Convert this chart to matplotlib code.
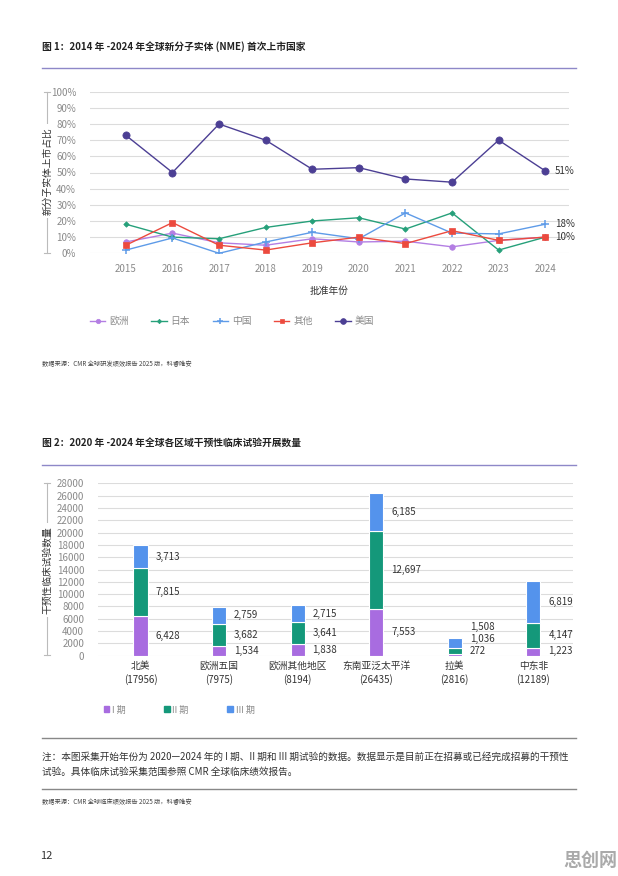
import matplotlib
matplotlib.use("Agg")
import matplotlib.pyplot as plt
import numpy as np
from matplotlib.lines import Line2D

plt.rcParams['font.family'] = ['Noto Sans CJK SC', 'DejaVu Sans']

# ---------------------------------------------------------------
# dados - figura 1
ANOS = [2015, 2016, 2017, 2018, 2019, 2020, 2021, 2022, 2023, 2024]
EUROPA = [7, 12.5, 6.5, 5, 9, 7, 7.5, 4, 8, 10]
JAPAO = [18, 10, 9, 16, 20, 22, 15, 25, 2, 10]
CHINA = [2, 9.5, 0, 7, 13, 9, 25, 12.5, 12, 18]
OUTROS = [5, 19, 5, 2, 6.5, 10, 6, 14, 8, 10]
EUA = [73, 50, 80, 70, 52, 53, 46, 44, 70, 51]

SERIES = ["欧洲", "日本", "中国", "其他", "美国"]
FIM = {"美国": "51%", "中国": "18%", "其他": "10%"}

# dados - figura 2
REGIOES = ["北美", "欧洲五国", "欧洲其他地区", "东南亚泛太平洋", "拉美", "中东非"]
FASE1 = [6428, 1534, 1838, 7553, 272, 1223]
FASE2 = [7815, 3682, 3641, 12697, 1036, 4147]
FASE3 = [3713, 2759, 2715, 6185, 1508, 6819]
FASES = ["I 期", "II 期", "III 期"]

CORES = {
    "欧洲": "#B37EE3",
    "日本": "#26A07A",
    "中国": "#5E9BE8",
    "其他": "#EC4A3E",
    "美国": "#4C3F94",
}
MARCADORES = {
    "欧洲": ("o", 4),
    "日本": ("D", 2.8),
    "中国": ("+", 5.5),
    "其他": ("s", 3.8),
    "美国": ("o", 5.2),
}
CORES_FASE = ["#A86CE0", "#14987A", "#5493EC"]

GRID = "#DCDCDC"
TXT = "#8A8A8A"
ESCURO = "#333333"

fig = plt.figure(figsize=(6.18, 8.76), dpi=100)
W, H = 618, 876


def fy(py):
    return 1 - py / H


def fx(px):
    return px / W


def colchete(x, y0, y1, rotulo, yc):
    # linha vertical do eixo com o rotulo por cima
    fig.add_artist(Line2D([fx(x), fx(x)], [fy(y0), fy(y1)], color="#BBBBBB", lw=0.8))
    for yy in (y0, y1):
        fig.add_artist(Line2D([fx(x - 3), fx(x + 3)], [fy(yy), fy(yy)], color="#BBBBBB", lw=0.8))
    fig.text(fx(x), fy(yc), rotulo, rotation=90, ha="center", va="center",
             fontsize=7, color=ESCURO,
             bbox=dict(facecolor="white", edgecolor="none", pad=2))


def cabecalho(titulo, y_txt, y_linha):
    fig.text(fx(42), fy(y_txt), titulo, fontsize=7, fontweight="bold",
             color="#222222", va="center", ha="left")
    fig.add_artist(Line2D([fx(42), fx(576)], [fy(y_linha), fy(y_linha)],
                          color="#8E88C8", lw=1.0))


def mew(m):
    return 1.1 if m == "+" else 0.5


# ---------------------------------------------------------------
# figura 1
cabecalho("图 1：2014 年 -2024 年全球新分子实体 (NME) 首次上市国家", 47, 68)

ax1 = fig.add_axes([fx(90), fy(253.3), fx(569) - fx(90), fy(91.7) - fy(253.3)])
dados = {"欧洲": EUROPA, "日本": JAPAO, "中国": CHINA, "其他": OUTROS, "美国": EUA}
for s in SERIES:
    m, ms = MARCADORES[s]
    ax1.plot(ANOS, dados[s], color=CORES[s], lw=1.0, marker=m, markersize=ms,
             markeredgewidth=mew(m), label=s)
    if s in FIM:
        ax1.annotate(FIM[s], (ANOS[-1], dados[s][-1]), xytext=(7, 0),
                     textcoords="offset points", va="center", ha="left",
                     fontsize=7, color=ESCURO)

ax1.set_xlim(2014.23, 2024.51)
ax1.set_ylim(0, 100)
ax1.set_yticks(np.arange(0, 101, 10))
ax1.set_yticklabels([f"{v}%" for v in range(0, 101, 10)])
ax1.set_xticks(ANOS)
ax1.grid(axis="y", color=GRID, lw=0.8)
ax1.set_axisbelow(True)
for sp in ax1.spines.values():
    sp.set_visible(False)
ax1.tick_params(axis="both", length=0, labelsize=7, labelcolor=TXT)
ax1.tick_params(axis="y", pad=10)
ax1.tick_params(axis="x", pad=8)
ax1.set_xlabel("批准年份", fontsize=7, color=ESCURO, labelpad=8)
colchete(47, 92, 253, "新分子实体上市占比", 171)

h1 = [Line2D([], [], color=CORES[s], lw=1.0, alpha=1, marker=MARCADORES[s][0],
             markersize=MARCADORES[s][1] * 0.8, markeredgewidth=mew(MARCADORES[s][0]))
      for s in SERIES]
fig.legend(h1, SERIES, loc="center", bbox_to_anchor=(fx(232), fy(321)), ncol=5,
           frameon=False, fontsize=7, labelcolor=TXT, handlelength=1.6,
           handletextpad=0.4, columnspacing=2.3)

fig.text(fx(42), fy(364), "数据来源：CMR 全球研发绩效报告 2025 版，科睿唯安",
         fontsize=4.5, color="#444444", va="center")

# ---------------------------------------------------------------
# figura 2
cabecalho("图 2：2020 年 -2024 年全球各区域干预性临床试验开展数量", 443, 465)

ax2 = fig.add_axes([fx(98), fy(655.7), fx(572.7) - fx(98), fy(483.3) - fy(655.7)])
x = np.arange(len(REGIOES))
largura = 0.18
base = np.zeros(len(REGIOES))
for vals, cor, nome in zip([FASE1, FASE2, FASE3], CORES_FASE, FASES):
    ax2.bar(x, vals, largura, bottom=base, color=cor, edgecolor="white",
            linewidth=0.8, label=nome)
    base = base + np.array(vals)

# rotulos ao lado das barras (afasta quando os segmentos sao pequenos)
for i in range(len(REGIOES)):
    inicio = 0
    ultimo = -1e9
    for vals in (FASE1, FASE2, FASE3):
        v = vals[i]
        yl = max(inicio + v / 2, 700, ultimo + 2000)
        ax2.text(x[i] + largura / 2 + 0.1, yl, f"{v:,}", va="center", ha="left",
                 fontsize=7, color=ESCURO)
        ultimo = yl
        inicio += v

totais = [a + b + c for a, b, c in zip(FASE1, FASE2, FASE3)]
ax2.set_xticks(x)
ax2.set_xticklabels([f"{r}\n({t})" for r, t in zip(REGIOES, totais)],
                    fontsize=7, color=ESCURO, linespacing=1.3)
ax2.set_xlim(-0.54, 5.5)
ax2.set_ylim(0, 28000)
ax2.set_yticks(np.arange(0, 28001, 2000))
ax2.grid(axis="y", color=GRID, lw=0.8)
ax2.set_axisbelow(True)
for sp in ax2.spines.values():
    sp.set_visible(False)
ax2.tick_params(axis="both", length=0)
ax2.tick_params(axis="y", labelsize=7, labelcolor=TXT, pad=10)
ax2.tick_params(axis="x", pad=4)
colchete(47, 483, 655, "干预性临床试验数量", 570)

h2 = [plt.Rectangle((0, 0), 1, 1, color=c) for c in CORES_FASE]
fig.legend(h2, FASES, loc="center", bbox_to_anchor=(fx(179), fy(710)), ncol=3,
           frameon=False, fontsize=6.5, labelcolor=TXT, handlelength=0.6,
           handleheight=0.6, handletextpad=0.3, columnspacing=4.3)

fig.add_artist(Line2D([fx(42), fx(576)], [fy(738), fy(738)], color="#888888", lw=1.0))
fig.text(fx(42), fy(757),
         "注：本图采集开始年份为 2020—2024 年的 I 期、II 期和 III 期试验的数据。数据显示是目前正在招募或已经完成招募的干预性",
         fontsize=6.95, color="#333333", va="center")
fig.text(fx(42), fy(772), "试验。具体临床试验采集范围参照 CMR 全球临床绩效报告。",
         fontsize=6.95, color="#333333", va="center")
fig.add_artist(Line2D([fx(42), fx(576)], [fy(789), fy(789)], color="#888888", lw=1.0))
fig.text(fx(42), fy(802), "数据来源：CMR 全球临床绩效报告 2025 版，科睿唯安",
         fontsize=4.5, color="#444444", va="center")

fig.text(fx(40), fy(856), "12", fontsize=8, color="#333333", va="center")
fig.text(fx(617), fy(860), "思创网", fontsize=13, fontweight="bold",
         color="#AAAAAA", ha="right", va="center")

fig.savefig("out.png", dpi=100)
